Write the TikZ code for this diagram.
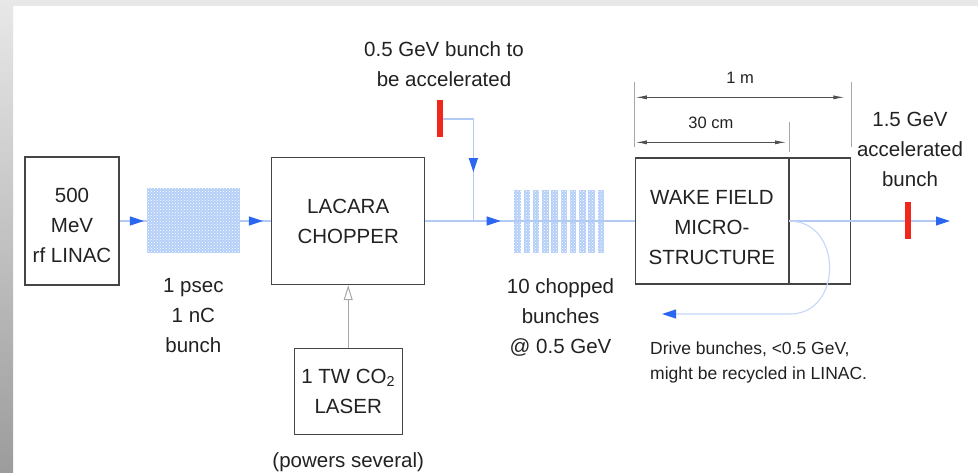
\documentclass[tikz,border=0pt]{standalone}
\usepackage{fontspec}
\setmainfont{Liberation Sans}
\usepackage{xcolor}
\usepackage{tikz}
\usetikzlibrary{arrows.meta,positioning,calc,patterns,decorations.markings}
\definecolor{Ink}{HTML}{222222}
\definecolor{Frame}{HTML}{454545}
\definecolor{Beam}{HTML}{B3CAF5}
\definecolor{BeamSoft}{HTML}{C6D7F8}
\definecolor{BeamHead}{HTML}{2B66F0}
\definecolor{Bunch}{HTML}{B4CFF8}
\definecolor{Bar}{HTML}{F2271C}
\definecolor{Dim}{HTML}{505050}
\definecolor{Tick}{HTML}{A8A8A8}
\definecolor{EdgeTop}{HTML}{E8E8E8}
\definecolor{EdgeLow}{HTML}{9C9C9C}
\newcommand\bigtxt{\fontsize{20.5}{30}\selectfont}
\newcommand\smalltxt{\fontsize{17.5}{25}\selectfont}
\newcommand\dimtxt{\fontsize{16.5}{20}\selectfont}
\tikzset{
  unit/.style={
    draw=Frame, line width=1.3pt, align=center,
    font=\bigtxt, text=Ink, inner sep=0pt
  },
  cloudfill/.style={fill=Bunch,postaction={pattern=crosshatch dots,pattern color=white}},
  cloud/.style={cloudfill,inner sep=0pt},
  redbar/.style={fill=Bar,minimum width=6pt,minimum height=37pt,inner sep=0pt},
  beam/.style={draw=Beam,line width=1.1pt},
  beamtip/.style={-{Triangle[length=14pt,width=9pt,color=BeamHead]}},
  midhead/.style={postaction={decorate,decoration={markings,
    mark=at position #1 with {\arrow{Triangle[length=14pt,width=9pt,color=BeamHead]}}}}},
  feed/.style={draw=Tick,line width=1pt,-{Triangle[open,length=15pt,width=9pt]}},
  dim/.style={draw=Dim,line width=0.9pt,{Latex[length=11pt,width=4pt]}-{Latex[length=11pt,width=4pt]}},
  tick/.style={draw=Tick,line width=0.8pt},
  note/.style={font=\bigtxt,text=Ink,align=center,inner sep=0pt},
  remark/.style={font=\smalltxt,text=Ink,align=left,inner sep=0pt},
  dimlabel/.style={font=\dimtxt,text=Ink,inner sep=0pt}
}
\begin{document}
\begin{tikzpicture}[x=1pt,y=1pt]
  \useasboundingbox (0,0) rectangle (978,472);
  \fill[white] (0,0) rectangle (978,472);
  \shade[top color=EdgeTop,bottom color=EdgeLow] (0,0) rectangle (13,472);
  \fill[EdgeTop] (13,466) rectangle (978,472);

  \node[unit,minimum width=94pt,minimum height=128pt,text height=83pt] (linac) at (72,251) {500\\MeV\\rf LINAC};
  \node[cloud,minimum width=93pt,minimum height=65pt,right=27pt of linac] (bunch) {};
  \node[unit,minimum width=153pt,minimum height=127pt,right=31pt of bunch] (chopper) {LACARA\\CHOPPER};
  \node[unit,minimum width=108pt,minimum height=86pt,below=63pt of chopper] (laser) {1 TW CO\textsubscript{2}\\LASER};
  \node[inner sep=0pt,minimum width=92pt,minimum height=63pt,right=89pt of chopper] (chopped) {};
  \node[unit,minimum width=153pt,minimum height=126pt,text height=87pt,right=28pt of chopped] (wake) {WAKE FIELD\\MICRO-\\STRUCTURE};
  \node[unit,minimum width=61pt,minimum height=126pt,right=0pt of wake] (wakeend) {};
  \node[redbar] (bar1) at (440,353) {};
  \coordinate[right=48pt of chopper.east] (join);
  \coordinate (split) at (wakeend.west);
  \coordinate (exit) at (950,251);
  \coordinate (back) at (662,158);

  \foreach \k in {0,...,9}
    \path[cloudfill] ($(chopped.south west)+(\k*9.25,0)$) rectangle ++(6.5,63);

  \draw[beam,midhead=0.9] (linac) -- (bunch);
  \draw[beam,midhead=0.74] (bunch) -- (chopper);
  \draw[beam,midhead=0.36] (chopper) -- (wake);
  \draw[beam,midhead=0.63] (bar1.east) -| (join);
  \draw[feed] (laser) -- (chopper);
  \draw[beam,beamtip] (split) -- (exit);
  \draw[beam,draw=BeamSoft,beamtip] (split) .. controls (843,251) and (843,158) .. (790,158) -- (back);
  \node[redbar] (bar2) at (908,251) {};

  \draw[tick] ($(wake.north west)+(0,10)$) -- ($(wake.north west)+(0,75)$);
  \draw[tick] ($(wakeend.north east)+(0,10)$) -- ($(wakeend.north east)+(0,75)$);
  \draw[tick] ($(wake.north east)+(0,5)$) -- ($(wake.north east)+(0,35)$);
  \coordinate (m1l) at ($(wake.north west)+(1,60)$);
  \coordinate (m1r) at ($(wakeend.north east)+(-7,60)$);
  \coordinate (m2l) at ($(wake.north west)+(1,15)$);
  \coordinate (m2r) at ($(wake.north east)+(-3,15)$);
  \draw[dim] (m1l) -- (m1r) node[dimlabel,midway,above=13pt] (onem) {1 m};
  \draw[dim] (m2l) -- (m2r) node[dimlabel,midway,above=13pt] (thirty) {30 cm};

  \node[note,below=24pt of bunch] (bunchtxt) {1 psec\\1 nC\\bunch};
  \node[note,below=26pt of chopped] (choppedtxt) {10 chopped\\bunches\\@ 0.5 GeV};
  \node[note,below=17pt of laser] (powertxt) {(powers several)};
  \node[note,above=13pt of bar1,xshift=4pt] (bartxt) {0.5 GeV bunch to\\be accelerated};
  \node[note,above=15pt of bar2,xshift=2pt] (outtxt) {1.5 GeV\\accelerated\\bunch};
  \node[remark,anchor=north west] (drivetxt) at (650,130) {Drive bunches, <0.5 GeV,\\might be recycled in LINAC.};
\end{tikzpicture}
\end{document}
